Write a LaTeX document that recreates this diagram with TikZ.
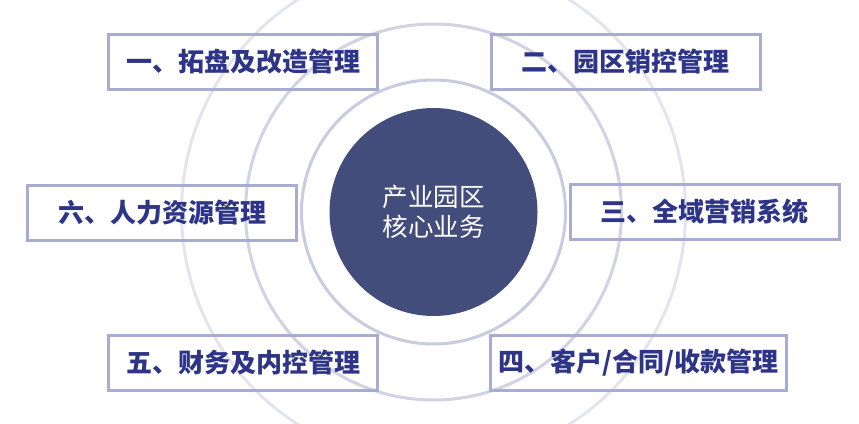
\documentclass[tikz,border=0pt]{standalone}
\usepackage{fontspec}
\newfontfamily\cjk{Noto Sans CJK SC}
\usepackage{tikz}
\usetikzlibrary{calc,backgrounds}
\definecolor{corecolor}{HTML}{434D7B}
\definecolor{boxcolor}{HTML}{A9ACD1}
\definecolor{labelcolor}{HTML}{2E3588}
\definecolor{ringcolor}{HTML}{C9CBE0}
\definecolor{farringcolor}{HTML}{E3E4EE}
\newcommand{\boxline}{3pt}
\newcommand{\boxh}{55pt}
\newcommand{\boxw}{269pt}
\tikzset{
  topic/.style={draw=boxcolor, line width=\boxline, minimum width=\boxw, minimum height=\boxh,
    inner sep=0pt, text=labelcolor, font=\cjk\bfseries\fontsize{26}{30}\selectfont},
  core/.style={circle, fill=corecolor, minimum size=208pt, inner sep=0pt, text=white,
    align=center, font=\cjk\fontsize{25.5}{30}\selectfont}
}

\begin{document}
\begin{tikzpicture}[x=1pt,y=-1pt]
\useasboundingbox (0,0) rectangle (859,423);
\clip (0,0) rectangle (859,423);
\node[core] (c) at (433.5, 212) {产业园区\\核心业务};
\node[topic] (1) at (243, 62) {一、拓盘及改造管理};
\node[topic] (2) at (625.5, 62) {二、园区销控管理};
\node[topic] (3) at (704.5, 212) {三、全域营销系统};
\node[topic, minimum width=296pt] (4) at (638.5, 363) {四、客户/合同/收款管理};
\node[topic] (5) at (243, 362.5) {五、财务及内控管理};
\node[topic] (6) at (162, 212.5) {六、人力资源管理};
%rings
\begin{scope}[on background layer]
\draw[ringcolor, line width=\boxline] (c) circle (132pt);
\draw[ringcolor!85, line width=\boxline] (c) circle (188pt);
\draw[farringcolor, line width=\boxline] (c) circle (252pt);
\end{scope}
\end{tikzpicture}
\end{document}
